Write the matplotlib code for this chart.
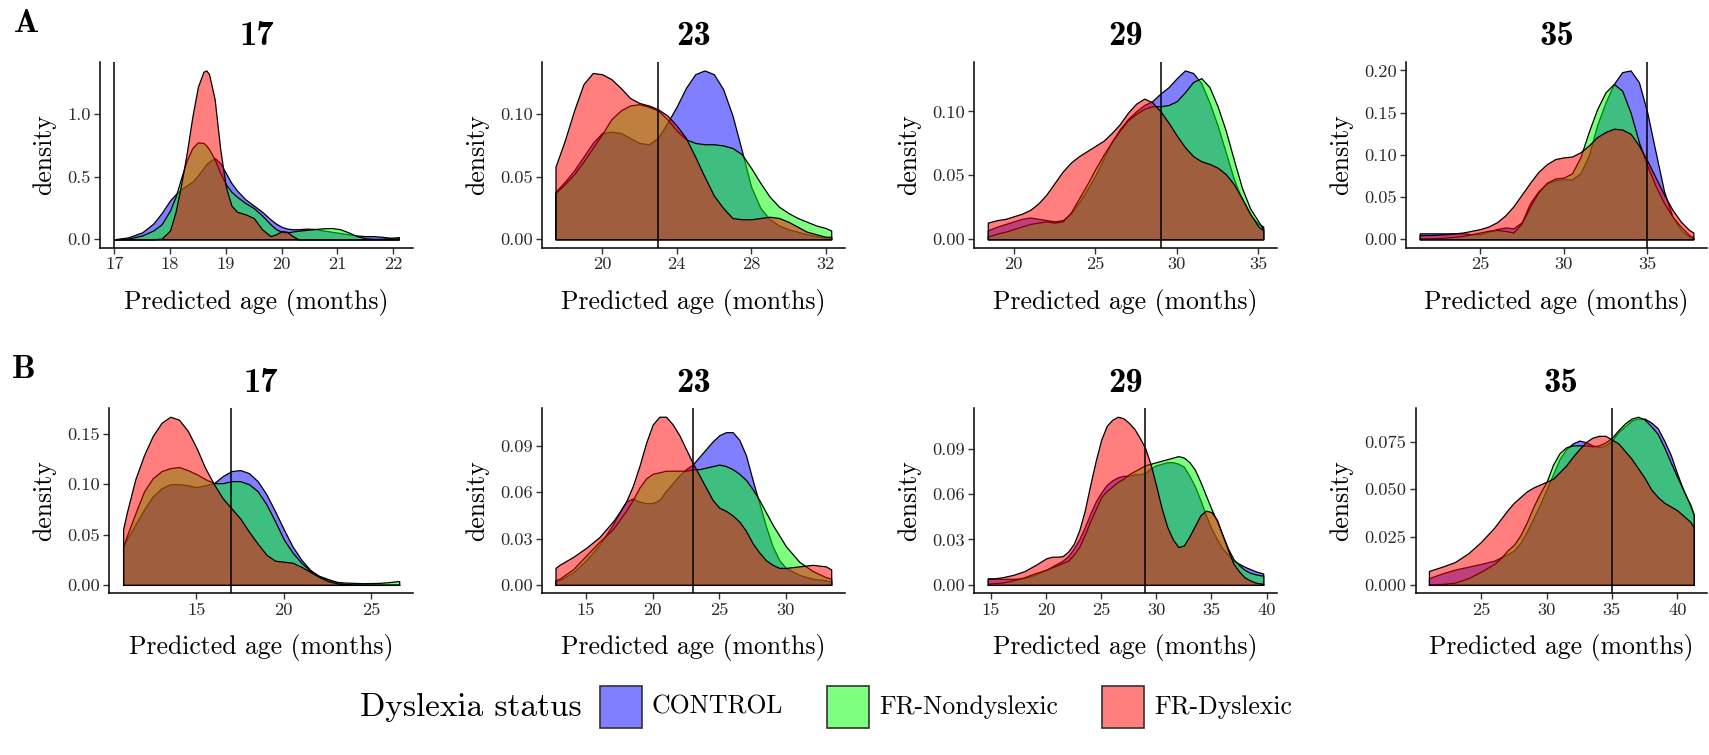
import matplotlib
matplotlib.use("Agg")
import matplotlib.pyplot as plt
from matplotlib.patches import Rectangle

plt.rcParams["font.family"] = "cmr10"
plt.rcParams["mathtext.fontset"] = "cm"
plt.rcParams["axes.formatter.use_mathtext"] = True

# groups and fill colours (drawn in this order, each at 50% opacity)
groups = ["CONTROL", "FR-Nondyslexic", "FR-Dyslexic"]
colors = ["#0000FF", "#00FF00", "#FF0000"]
ages = [17, 23, 29, 35]

# ---- A: density of predicted age, per target age ----
a17_x = [17.0, 17.25, 17.5, 17.7, 17.85, 18.0, 18.1, 18.2, 18.3, 18.4, 18.5, 18.6, 18.65, 18.7,
         18.8, 18.9, 19.0, 19.1, 19.2, 19.35, 19.5, 19.65, 19.8, 19.9, 20.0, 20.1, 20.2, 20.3,
         20.45, 20.6, 20.75, 20.9, 21.05, 21.2, 21.35, 21.5, 21.65, 21.8, 21.95, 22.1]
a17_control = [0.0, 0.015, 0.055, 0.125, 0.21, 0.31, 0.36, 0.4, 0.43, 0.46, 0.51, 0.57, 0.6, 0.62,
               0.65, 0.61, 0.53, 0.45, 0.39, 0.32, 0.27, 0.22, 0.16, 0.125, 0.1, 0.085, 0.08, 0.08,
               0.085, 0.082, 0.07, 0.06, 0.05, 0.04, 0.03, 0.025, 0.025, 0.02, 0.012, 0.008]
a17_nondys = [0.0, 0.005, 0.03, 0.07, 0.12, 0.23, 0.34, 0.49, 0.63, 0.73, 0.775, 0.77, 0.75, 0.72,
              0.64, 0.53, 0.44, 0.38, 0.34, 0.29, 0.25, 0.19, 0.12, 0.08, 0.06, 0.055, 0.062, 0.068,
              0.075, 0.082, 0.088, 0.09, 0.08, 0.055, 0.025, 0.008, 0.003, 0.004, 0.01, 0.018]
a17_dys = [0.0, 0.0, 0.0, 0.0, 0.005, 0.07, 0.22, 0.44, 0.69, 0.98, 1.22, 1.34, 1.35, 1.32,
           1.12, 0.72, 0.42, 0.27, 0.22, 0.2, 0.17, 0.08, 0.025, 0.04, 0.065, 0.06, 0.025, 0.0,
           0.0, 0.0, 0.0, 0.0, 0.0, 0.0, 0.0, 0.0, 0.0, 0.0, 0.0, 0.0]

a23_x = [17.5, 18.0, 18.5, 19.0, 19.5, 20.0, 20.5, 21.0, 21.5, 22.0, 22.5, 23.0, 23.5, 24.0, 24.5,
         25.0, 25.5, 26.0, 26.5, 27.0, 27.5, 28.0, 28.5, 29.0, 29.5, 30.0, 30.5, 31.0, 31.5, 32.0, 32.3]
a23_control = [0.038, 0.046, 0.055, 0.066, 0.077, 0.085, 0.086, 0.085, 0.081, 0.077, 0.076, 0.081,
               0.093, 0.106, 0.121, 0.132, 0.135, 0.132, 0.12, 0.099, 0.071, 0.042, 0.025, 0.016,
               0.011, 0.008, 0.006, 0.004, 0.0025, 0.0013, 0.001]
a23_nondys = [0.037, 0.044, 0.052, 0.062, 0.073, 0.084, 0.096, 0.103, 0.107, 0.108, 0.106, 0.103,
              0.096, 0.087, 0.08, 0.077, 0.076, 0.076, 0.075, 0.073, 0.068, 0.057, 0.045, 0.034,
              0.026, 0.021, 0.017, 0.014, 0.011, 0.009, 0.007]
a23_dys = [0.058, 0.079, 0.103, 0.124, 0.133, 0.132, 0.128, 0.121, 0.113, 0.109, 0.107, 0.104,
           0.099, 0.091, 0.081, 0.066, 0.05, 0.035, 0.025, 0.017, 0.016, 0.016, 0.017, 0.018,
           0.017, 0.014, 0.01, 0.006, 0.004, 0.002, 0.002]

a29_x = [18.4, 19.0, 19.5, 20.0, 20.5, 21.0, 21.5, 22.0, 22.5, 23.0, 23.5, 24.0, 24.5, 25.0, 25.5,
         26.0, 26.5, 27.0, 27.5, 28.0, 28.5, 29.0, 29.5, 30.0, 30.5, 31.0, 31.5, 32.0, 32.5, 33.0,
         33.5, 34.0, 34.5, 35.0, 35.3]
a29_control = [0.007, 0.01, 0.012, 0.014, 0.016, 0.017, 0.016, 0.015, 0.014, 0.015, 0.02, 0.029,
               0.039, 0.05, 0.063, 0.076, 0.086, 0.094, 0.1, 0.105, 0.108, 0.114, 0.119, 0.126,
               0.132, 0.13, 0.122, 0.107, 0.089, 0.068, 0.047, 0.031, 0.019, 0.012, 0.01]
a29_nondys = [0.002, 0.0045, 0.006, 0.008, 0.01, 0.012, 0.013, 0.014, 0.013, 0.014, 0.021, 0.032,
              0.043, 0.055, 0.066, 0.076, 0.085, 0.093, 0.098, 0.102, 0.104, 0.104, 0.105, 0.108,
              0.115, 0.123, 0.126, 0.119, 0.104, 0.085, 0.062, 0.04, 0.024, 0.014, 0.008]
a29_dys = [0.013, 0.015, 0.016, 0.018, 0.02, 0.023, 0.028, 0.035, 0.044, 0.053, 0.06, 0.065,
           0.069, 0.073, 0.077, 0.083, 0.09, 0.099, 0.106, 0.11, 0.107, 0.1, 0.091, 0.081,
           0.072, 0.065, 0.061, 0.059, 0.056, 0.051, 0.043, 0.032, 0.02, 0.01, 0.007]

a35_x = [21.4, 22.0, 22.5, 23.0, 23.5, 24.0, 24.5, 25.0, 25.5, 26.0, 26.5, 27.0, 27.5, 28.0, 28.5,
         29.0, 29.5, 30.0, 30.5, 31.0, 31.5, 32.0, 32.5, 33.0, 33.5, 34.0, 34.5, 35.0, 35.5, 36.0,
         36.5, 37.0, 37.5, 37.75]
a35_control = [0.007, 0.007, 0.007, 0.007, 0.007, 0.007, 0.006, 0.006, 0.009, 0.012, 0.014, 0.013,
               0.02, 0.043, 0.057, 0.066, 0.07, 0.071, 0.071, 0.078, 0.099, 0.135, 0.162, 0.184,
               0.198, 0.2, 0.186, 0.15, 0.103, 0.057, 0.027, 0.011, 0.003, 0.0016]
a35_nondys = [0.001, 0.0012, 0.0015, 0.002, 0.003, 0.004, 0.006, 0.008, 0.01, 0.011, 0.01, 0.008,
              0.019, 0.039, 0.056, 0.067, 0.072, 0.073, 0.078, 0.097, 0.127, 0.154, 0.174, 0.184,
              0.176, 0.15, 0.115, 0.087, 0.063, 0.043, 0.027, 0.015, 0.005, 0.002]
a35_dys = [0.005, 0.005, 0.0055, 0.006, 0.007, 0.008, 0.01, 0.012, 0.015, 0.02, 0.028, 0.039,
           0.053, 0.067, 0.08, 0.089, 0.095, 0.097, 0.098, 0.103, 0.111, 0.121, 0.127, 0.131,
           0.13, 0.125, 0.111, 0.093, 0.073, 0.053, 0.035, 0.021, 0.011, 0.008]

# ---- B ----
b17_x = [10.8, 11.0, 11.5, 12.0, 12.5, 13.0, 13.5, 14.0, 14.5, 15.0, 15.5, 16.0, 16.5, 17.0, 17.5,
         18.0, 18.5, 19.0, 19.5, 20.0, 20.5, 21.0, 21.5, 22.0, 22.5, 23.0, 23.5, 24.0, 24.5, 25.0,
         25.5, 26.0, 26.5, 26.6]
b17_control = [0.039, 0.045, 0.06, 0.075, 0.088, 0.096, 0.1, 0.1, 0.099, 0.097, 0.099, 0.101, 0.108,
               0.113, 0.114, 0.111, 0.103, 0.09, 0.073, 0.055, 0.038, 0.025, 0.015, 0.009, 0.005,
               0.003, 0.0013, 0.0007, 0.0004, 0.0003, 0.0002, 0.0002, 0.0002, 0.0002]
b17_nondys = [0.038, 0.048, 0.071, 0.093, 0.106, 0.113, 0.116, 0.117, 0.114, 0.11, 0.105, 0.101,
              0.101, 0.103, 0.103, 0.1, 0.093, 0.08, 0.063, 0.045, 0.032, 0.022, 0.014, 0.009,
              0.006, 0.003, 0.0023, 0.002, 0.0017, 0.0018, 0.002, 0.0027, 0.0037, 0.0037]
b17_dys = [0.055, 0.071, 0.105, 0.129, 0.148, 0.161, 0.167, 0.164, 0.153, 0.136, 0.116, 0.1, 0.086,
           0.076, 0.066, 0.053, 0.041, 0.03, 0.024, 0.023, 0.022, 0.018, 0.013, 0.008, 0.004,
           0.0017, 0.0006, 0.0002, 0.0, 0.0, 0.0, 0.0, 0.0, 0.0]

b23_x = [12.7, 13.0, 14.0, 15.0, 16.0, 17.0, 17.5, 18.0, 18.5, 19.0, 19.5, 20.0, 20.5, 21.0, 21.5,
         22.0, 22.5, 23.0, 23.5, 24.0, 24.5, 25.0, 25.5, 26.0, 26.5, 27.0, 27.5, 28.0, 28.5, 29.0,
         29.5, 30.0, 31.0, 32.0, 33.0, 33.4]
b23_control = [0.002, 0.003, 0.008, 0.016, 0.026, 0.039, 0.047, 0.054, 0.056, 0.054, 0.053, 0.053,
               0.055, 0.061, 0.066, 0.071, 0.075, 0.078, 0.083, 0.088, 0.093, 0.097, 0.099, 0.099,
               0.094, 0.084, 0.068, 0.053, 0.038, 0.025, 0.016, 0.011, 0.0065, 0.004, 0.003, 0.002]
b23_nondys = [0.003, 0.004, 0.01, 0.019, 0.028, 0.036, 0.042, 0.048, 0.055, 0.063, 0.069, 0.072,
              0.073, 0.074, 0.074, 0.074, 0.074, 0.075, 0.075, 0.076, 0.077, 0.078, 0.077, 0.075,
              0.072, 0.068, 0.062, 0.055, 0.047, 0.039, 0.032, 0.025, 0.015, 0.009, 0.005, 0.004]
b23_dys = [0.011, 0.013, 0.018, 0.024, 0.031, 0.041, 0.047, 0.054, 0.064, 0.077, 0.092, 0.104,
           0.109, 0.109, 0.104, 0.097, 0.088, 0.079, 0.071, 0.063, 0.055, 0.05, 0.048, 0.045,
           0.041, 0.035, 0.027, 0.021, 0.016, 0.013, 0.011, 0.011, 0.012, 0.013, 0.012, 0.01]

b29_x = [14.7, 15.0, 16.0, 17.0, 18.0, 19.0, 20.0, 20.5, 21.0, 21.5, 22.0, 22.5, 23.0, 23.5, 24.0,
         24.5, 25.0, 25.5, 26.0, 26.5, 27.0, 27.5, 28.0, 28.5, 29.0, 29.5, 30.0, 30.5, 31.0, 31.5,
         32.0, 32.5, 33.0, 33.5, 34.0, 34.5, 35.0, 35.5, 36.0, 36.5, 37.0, 37.5, 38.0, 38.5, 39.0, 39.7]
b29_control = [0.0044, 0.0043, 0.004, 0.004, 0.0044, 0.0066, 0.01, 0.012, 0.014, 0.016, 0.019, 0.024,
               0.03, 0.038, 0.047, 0.055, 0.061, 0.066, 0.069, 0.071, 0.072, 0.072, 0.073, 0.073,
               0.074, 0.077, 0.079, 0.08, 0.081, 0.081, 0.08, 0.078, 0.072, 0.065, 0.056, 0.046,
               0.037, 0.03, 0.024, 0.02, 0.016, 0.014, 0.012, 0.0105, 0.009, 0.0075]
b29_nondys = [0.0007, 0.001, 0.0015, 0.003, 0.005, 0.0077, 0.01, 0.0115, 0.013, 0.0145, 0.016, 0.02,
              0.025, 0.033, 0.042, 0.05, 0.058, 0.062, 0.065, 0.068, 0.07, 0.073, 0.075, 0.077,
              0.079, 0.08, 0.081, 0.082, 0.083, 0.084, 0.085, 0.084, 0.081, 0.076, 0.068, 0.059,
              0.05, 0.042, 0.033, 0.024, 0.017, 0.013, 0.01, 0.008, 0.007, 0.006]
b29_dys = [0.004, 0.004, 0.005, 0.0066, 0.009, 0.013, 0.0175, 0.0186, 0.0186, 0.019, 0.022, 0.027,
           0.036, 0.049, 0.066, 0.082, 0.096, 0.105, 0.109, 0.111, 0.11, 0.107, 0.103, 0.097,
           0.09, 0.079, 0.065, 0.05, 0.038, 0.03, 0.025, 0.026, 0.032, 0.039, 0.046, 0.049,
           0.048, 0.043, 0.033, 0.023, 0.014, 0.009, 0.005, 0.003, 0.0015, 0.0007]

b35_x = [21.0, 22.0, 23.0, 24.0, 25.0, 26.0, 26.5, 27.0, 27.5, 28.0, 28.5, 29.0, 29.5, 30.0, 30.5,
         31.0, 31.5, 32.0, 32.5, 33.0, 33.5, 34.0, 34.5, 35.0, 35.5, 36.0, 36.5, 37.0, 37.5, 38.0,
         38.5, 39.0, 39.5, 40.0, 40.5, 41.0, 41.26]
b35_control = [0.0035, 0.006, 0.008, 0.0095, 0.011, 0.0127, 0.0144, 0.016, 0.018, 0.022, 0.028,
               0.035, 0.042, 0.05, 0.058, 0.066, 0.071, 0.074, 0.0755, 0.0747, 0.073, 0.072, 0.073,
               0.0755, 0.08, 0.083, 0.086, 0.087, 0.087, 0.085, 0.082, 0.0755, 0.068, 0.058, 0.049,
               0.041, 0.036]
b35_nondys = [0.0003, 0.0005, 0.0012, 0.0035, 0.007, 0.011, 0.014, 0.018, 0.021, 0.026, 0.033,
              0.041, 0.048, 0.054, 0.063, 0.069, 0.072, 0.073, 0.073, 0.073, 0.0725, 0.073, 0.0745,
              0.077, 0.081, 0.0845, 0.087, 0.088, 0.0865, 0.083, 0.079, 0.072, 0.064, 0.0564, 0.049,
              0.042, 0.037]
b35_dys = [0.0073, 0.0095, 0.012, 0.0165, 0.0226, 0.03, 0.0345, 0.039, 0.043, 0.046, 0.049, 0.051,
           0.0525, 0.054, 0.0556, 0.059, 0.0625, 0.067, 0.071, 0.0747, 0.077, 0.078, 0.078, 0.076,
           0.074, 0.07, 0.066, 0.061, 0.056, 0.05, 0.046, 0.043, 0.041, 0.039, 0.036, 0.033, 0.03]

# tick positions / labels for each panel
x_ticks = {
    ("A", 17): [17, 18, 19, 20, 21, 22], ("A", 23): [20, 24, 28, 32],
    ("A", 29): [20, 25, 30, 35], ("A", 35): [25, 30, 35],
    ("B", 17): [15, 20, 25], ("B", 23): [15, 20, 25, 30],
    ("B", 29): [15, 20, 25, 30, 35, 40], ("B", 35): [25, 30, 35, 40],
}
y_ticks = {
    ("A", 17): ["0.0", "0.5", "1.0"], ("A", 23): ["0.00", "0.05", "0.10"],
    ("A", 29): ["0.00", "0.05", "0.10"], ("A", 35): ["0.00", "0.05", "0.10", "0.15", "0.20"],
    ("B", 17): ["0.00", "0.05", "0.10", "0.15"], ("B", 23): ["0.00", "0.03", "0.06", "0.09"],
    ("B", 29): ["0.00", "0.03", "0.06", "0.09"], ("B", 35): ["0.000", "0.025", "0.050", "0.075"],
}

panels = {
    ("A", 17): (a17_x, [a17_control, a17_nondys, a17_dys]),
    ("A", 23): (a23_x, [a23_control, a23_nondys, a23_dys]),
    ("A", 29): (a29_x, [a29_control, a29_nondys, a29_dys]),
    ("A", 35): (a35_x, [a35_control, a35_nondys, a35_dys]),
    ("B", 17): (b17_x, [b17_control, b17_nondys, b17_dys]),
    ("B", 23): (b23_x, [b23_control, b23_nondys, b23_dys]),
    ("B", 29): (b29_x, [b29_control, b29_nondys, b29_dys]),
    ("B", 35): (b35_x, [b35_control, b35_nondys, b35_dys]),
}

W, H = 1709, 755
fig = plt.figure(figsize=(W / 100, H / 100), dpi=100)

# axes boxes in pixels: (left, right, top, bottom)
rows = {"A": (62, 247.7), "B": (408.3, 593.3)}
cols = {
    "A": [(100, 413), (541.7, 845), (974, 1277), (1406, 1707)],
    "B": [(109.3, 413), (541.7, 845), (974, 1277), (1415.7, 1707)],
}

grey = "#2b2b2b"
for row in ["A", "B"]:
    top, bottom = rows[row]
    for i, age in enumerate(ages):
        left, right = cols[row][i]
        ax = fig.add_axes([left / W, 1 - bottom / H, (right - left) / W, (bottom - top) / H])
        x, ys = panels[(row, age)]
        for k, (y, c) in enumerate(zip(ys, colors)):
            ax.fill_between(x, y, 0, facecolor=matplotlib.colors.to_rgba(c, 0.5),
                            edgecolor="black", linewidth=0.9, zorder=2 + k)
        ax.axvline(age, color="black", linewidth=1.1, zorder=6)

        # ggplot-like 5% expansion around the data
        xr = max(x) - min(x)
        ax.set_xlim(min(x) - 0.05 * xr, max(x) + 0.05 * xr)
        ymax = max(max(y) for y in ys)
        ax.set_ylim(-0.05 * ymax, 1.05 * ymax)

        ax.set_xticks(x_ticks[(row, age)])
        ax.set_xticklabels([str(t) for t in x_ticks[(row, age)]])
        ylabs = y_ticks[(row, age)]
        ax.set_yticks([float(t) for t in ylabs])
        ax.set_yticklabels(ylabs)

        for s in ["top", "right"]:
            ax.spines[s].set_visible(False)
        for s in ["left", "bottom"]:
            ax.spines[s].set_linewidth(1.1)
        ax.tick_params(direction="out", length=4, width=1.0, color="#333333",
                       labelsize=13.3, labelcolor=grey, pad=2.5)
        ax.set_xlabel("Predicted age (months)", fontsize=18.5, labelpad=12)
        ax.set_ylabel("density", fontsize=18.5, labelpad=8)
        ax.set_title(str(age), fontsize=25, fontfamily="cmb10", pad=12)

fig.text(26 / W, 1 - 23 / H, "A", fontsize=24, fontfamily="cmb10", ha="center", va="center")
fig.text(24 / W, 1 - 369 / H, "B", fontsize=24, fontfamily="cmb10", ha="center", va="center")

# legend along the bottom
leg_y = 707
renderer = fig.canvas.get_renderer()
t = fig.text(360 / W, 1 - leg_y / H, "Dyslexia status", fontsize=24, ha="left", va="center")
x_cur = t.get_window_extent(renderer).x1 + 18
box = 42
for g, c in zip(groups, colors):
    fig.add_artist(Rectangle(((x_cur) / W, 1 - (leg_y + box / 2) / H), box / W, box / H,
                             transform=fig.transFigure, facecolor=matplotlib.colors.to_rgba(c, 0.5),
                             edgecolor="#333333", linewidth=1.2))
    lt = fig.text((x_cur + box + 10) / W, 1 - leg_y / H, g, fontsize=18.5, ha="left", va="center")
    x_cur = lt.get_window_extent(renderer).x1 + 44

fig.savefig("out.png", dpi=100)
